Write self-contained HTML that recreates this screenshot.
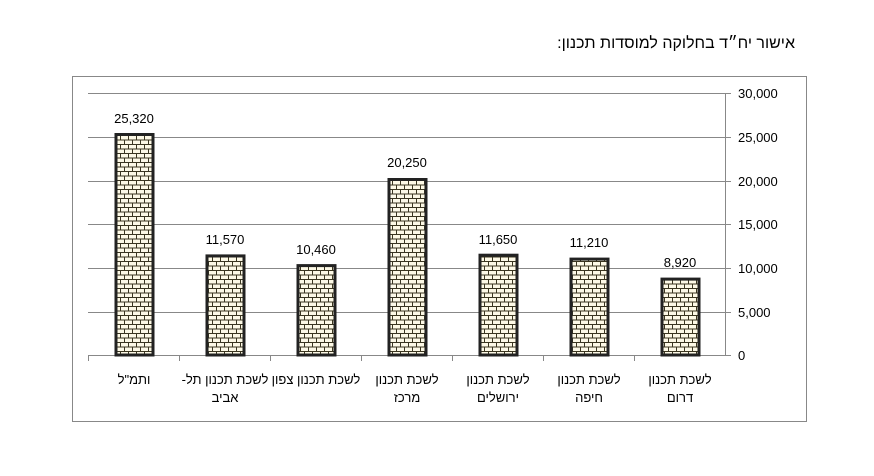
<!DOCTYPE html>
<html><head><meta charset="utf-8"><style>
body{margin:0;background:#fff}
svg text{font-family:"Liberation Sans","Noto Sans CJK SC",sans-serif;font-size:13px;fill:#000}
</style></head><body>
<svg width="874" height="471" xmlns="http://www.w3.org/2000/svg">
<defs>
<pattern id="b" width="8" height="9" patternUnits="userSpaceOnUse">
<rect width="8" height="9" fill="#fdf9e6"/>
<path d="M0 0.5H8M0 5H8M0.5 0.5V5M4.5 5V9" stroke="#3a3520" stroke-width="1" fill="none"/>
</pattern>
</defs>
<text x="795" y="48" text-anchor="start" style="font-size:16px" direction="rtl">אישור יח״ד בחלוקה למוסדות תכנון:</text>
<rect x="72.5" y="76.5" width="734" height="345" fill="none" stroke="#888" stroke-width="1"/>
<g stroke="#888" stroke-width="1">
<line x1="88" y1="93.5" x2="731" y2="93.5"/>
<line x1="88" y1="137.5" x2="731" y2="137.5"/>
<line x1="88" y1="181.5" x2="731" y2="181.5"/>
<line x1="88" y1="224.5" x2="731" y2="224.5"/>
<line x1="88" y1="268.5" x2="731" y2="268.5"/>
<line x1="88" y1="312.5" x2="731" y2="312.5"/>
<line x1="88" y1="355.5" x2="731" y2="355.5"/>
<line x1="725.5" y1="93" x2="725.5" y2="355"/>
<line x1="88.5" y1="355" x2="88.5" y2="361"/>
<line x1="179.5" y1="355" x2="179.5" y2="361"/>
<line x1="270.5" y1="355" x2="270.5" y2="361"/>
<line x1="361.5" y1="355" x2="361.5" y2="361"/>
<line x1="452.5" y1="355" x2="452.5" y2="361"/>
<line x1="543.5" y1="355" x2="543.5" y2="361"/>
<line x1="634.5" y1="355" x2="634.5" y2="361"/>
</g>
<g text-anchor="start">
<text x="738" y="98">30,000</text>
<text x="738" y="142">25,000</text>
<text x="738" y="186">20,000</text>
<text x="738" y="229">15,000</text>
<text x="738" y="273">10,000</text>
<text x="738" y="317">5,000</text>
<text x="738" y="360">0</text>
</g>
<g fill="url(#b)" stroke="#222" stroke-width="3">
<rect x="116" y="134.5" width="37" height="220.5"/>
<rect x="207" y="255.9" width="37" height="99.1"/>
<rect x="298" y="265.6" width="37" height="89.4"/>
<rect x="389" y="179.5" width="37" height="175.5"/>
<rect x="480" y="255.2" width="37" height="99.8"/>
<rect x="571" y="259.1" width="37" height="95.9"/>
<rect x="662" y="279.1" width="37" height="75.9"/>
</g>
<g text-anchor="middle" style="font-size:14px">
<text x="134" y="123">25,320</text>
<text x="225" y="244">11,570</text>
<text x="316" y="254">10,460</text>
<text x="407" y="167">20,250</text>
<text x="498" y="244">11,650</text>
<text x="589" y="247">11,210</text>
<text x="680" y="267">8,920</text>
</g>
<g text-anchor="middle" direction="rtl" style="font-size:14px">
<text x="134" y="384">ותמ"ל</text>
<text x="225" y="384">לשכת תכנון תל-</text>
<text x="225" y="402">אביב</text>
<text x="316" y="384">לשכת תכנון צפון</text>
<text x="407" y="384">לשכת תכנון</text>
<text x="407" y="402">מרכז</text>
<text x="498" y="384">לשכת תכנון</text>
<text x="498" y="402">ירושלים</text>
<text x="589" y="384">לשכת תכנון</text>
<text x="589" y="402">חיפה</text>
<text x="680" y="384">לשכת תכנון</text>
<text x="680" y="402">דרום</text>
</g>
</svg>
</body></html>
